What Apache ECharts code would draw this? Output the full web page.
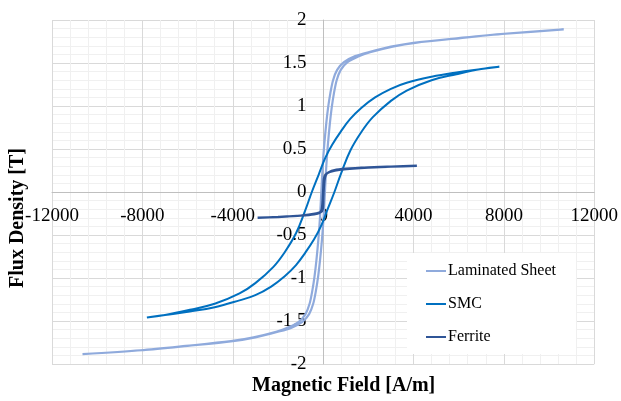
<!DOCTYPE html>
<html>
<head>
<meta charset="utf-8">
<script src="https://cdn.jsdelivr.net/npm/echarts@6/dist/echarts.min.js"></script>
<style>
html,body{margin:0;padding:0;background:#fff;}
#chart{width:621px;height:401px;}
</style>
</head>
<body>
<div id="chart"></div>
<script>
// ---- Data (H in A/m, B in T) ----
const seriesNames = ["Laminated Sheet", "SMC", "Ferrite"];

// Laminated sheet: descending branch (from +Hmax) and ascending branch (from -Hmax)
const lamDownH = [10650, 8000, 6000, 4000, 3000, 2000, 1420, 920, 620, 440, 320, 220, 140, 50, -20, -80, -140, -210, -300, -380, -480, -600, -780, -1080, -1580, -2080, -3080, -4080, -6080, -8080, -10650];
const lamDownB = [1.89, 1.84, 1.79, 1.735, 1.69, 1.625, 1.58, 1.51, 1.42, 1.30, 1.15, 0.98, 0.80, 0.55, 0.30, 0.0, -0.30, -0.55, -0.80, -0.98, -1.15, -1.30, -1.42, -1.51, -1.58, -1.625, -1.69, -1.735, -1.79, -1.84, -1.885];
const lamUpH = [-10650, -8000, -6000, -4000, -3000, -2000, -1420, -920, -620, -440, -320, -220, -140, -50, 20, 80, 140, 210, 300, 380, 480, 600, 780, 1080, 1580, 2080, 3080, 4080, 6080, 8080, 10650];
const lamUpB = [-1.885, -1.84, -1.79, -1.735, -1.69, -1.625, -1.58, -1.51, -1.42, -1.30, -1.15, -0.98, -0.80, -0.55, -0.30, 0.0, 0.30, 0.55, 0.80, 0.98, 1.15, 1.30, 1.42, 1.51, 1.58, 1.625, 1.69, 1.735, 1.79, 1.84, 1.89];

// SMC
const smcDownH = [7800, 7000, 5900, 4800, 3700, 3000, 2300, 1700, 1200, 800, 400, 100, -200, -500, -800, -1200, -1700, -2200, -3000, -3700, -4800, -5900, -7000, -7800];
const smcDownB = [1.457, 1.43, 1.39, 1.34, 1.27, 1.20, 1.10, 0.98, 0.85, 0.71, 0.55, 0.40, 0.20, 0.0, -0.22, -0.48, -0.70, -0.87, -1.06, -1.18, -1.30, -1.37, -1.43, -1.46];
const smcUpH = [-7800, -7000, -5900, -4800, -3700, -3000, -2300, -1700, -1200, -800, -400, -100, 200, 500, 800, 1200, 1700, 2200, 3000, 3700, 4800, 5900, 7000, 7800];
const smcUpB = [-1.46, -1.43, -1.39, -1.34, -1.26, -1.20, -1.10, -0.98, -0.85, -0.71, -0.55, -0.40, -0.20, 0.0, 0.22, 0.48, 0.70, 0.87, 1.06, 1.18, 1.30, 1.37, 1.43, 1.457];

// Ferrite
const ferDownH = [4150, 3000, 2000, 1000, 500, 250, 120, 60, 30, 10, 0, -20, -80, -300, -1000, -2000, -2900];
const ferDownB = [0.305, 0.295, 0.285, 0.27, 0.255, 0.23, 0.20, 0.14, 0.05, -0.05, -0.15, -0.20, -0.23, -0.25, -0.275, -0.29, -0.30];
const ferUpH = [-2900, -2000, -1000, -400, -150, -60, -20, 0, 15, 40, 100, 300, 800, 2000, 3000, 4150];
const ferUpB = [-0.30, -0.29, -0.275, -0.26, -0.24, -0.20, -0.10, 0.0, 0.10, 0.16, 0.20, 0.235, 0.26, 0.285, 0.295, 0.305];

// Axis ticks
const xTicks = [-12000, -8000, -4000, 0, 4000, 8000, 12000];
const yTicks = [-2, -1.5, -1, -0.5, 0, 0.5, 1, 1.5, 2];

const colors = ["#8FAADC", "#0070C0", "#2F5597"];

function loop(h1, b1, h2, b2) {
  const out = [];
  for (let i = 0; i < h1.length; i++) out.push([h1[i], b1[i]]);
  for (let i = 0; i < h2.length; i++) out.push([h2[i], b2[i]]);
  return out;
}

const FONT = "'Liberation Serif', 'Times New Roman', serif";
const W = 621, H = 401;
const G = {left: 52, right: 26, top: 20, bottom: 37};
const plotW = W - G.left - G.right;
const plotH = H - G.top - G.bottom;

const chart = echarts.init(document.getElementById('chart'), null, {renderer: 'canvas'});
const option = {
  animation: false,
  backgroundColor: '#ffffff',
  color: colors,
  grid: Object.assign({containLabel: false}, G),
  xAxis: {
    type: 'value',
    position: 'bottom',
    offset: -plotH / 2,
    min: xTicks[0], max: xTicks[xTicks.length - 1], interval: xTicks[1] - xTicks[0],
    axisLine: {show: true, onZero: false, lineStyle: {color: '#bfbfbf', width: 1}},
    axisTick: {show: false},
    minorTick: {show: false, splitNumber: 5},
    axisLabel: {margin: 15, color: '#000', fontFamily: FONT, fontSize: 19, showMinLabel: true, showMaxLabel: true,
      hideOverlap: false, formatter: v => String(v)},
    splitLine: {show: true, lineStyle: {color: '#d9d9d9', width: 1}},
    minorSplitLine: {show: true, lineStyle: {color: '#f0f0f0', width: 1}}
  },
  yAxis: {
    type: 'value',
    position: 'left',
    offset: -plotW / 2,
    min: yTicks[0], max: yTicks[yTicks.length - 1], interval: 0.5,
    axisLine: {show: true, onZero: false, lineStyle: {color: '#bfbfbf', width: 1}},
    axisTick: {show: false},
    minorTick: {show: false, splitNumber: 5},
    axisLabel: {margin: 17, color: '#000', fontFamily: FONT, fontSize: 19, showMinLabel: true, showMaxLabel: true,
      hideOverlap: false, formatter: v => String(v)},
    splitLine: {show: true, lineStyle: {color: '#d9d9d9', width: 1}},
    minorSplitLine: {show: true, lineStyle: {color: '#f0f0f0', width: 1}}
  },
  legend: {
    orient: 'vertical',
    left: 407, top: 253,
    backgroundColor: '#ffffff',
    padding: [10, 20, 9, 19],
    icon: 'rect',
    itemWidth: 20, itemHeight: 2, itemGap: 17,
    textStyle: {fontFamily: FONT, fontSize: 16, color: '#000', lineHeight: 16, padding: [0, 0, 0, -3]},
    data: seriesNames
  },
  graphic: [
    {type: 'text', left: 252, top: 376, style: {text: 'Magnetic Field [A/m]', font: "bold 20px 'Liberation Serif'", fill: '#000'}},
    {type: 'text', rotation: Math.PI / 2, x: 8, y: 288, style: {text: 'Flux Density [T]', font: "bold 20px 'Liberation Serif'", fill: '#000', textVerticalAlign: 'top'}}
  ],
  series: [
    {name: seriesNames[0], type: 'line', showSymbol: false, symbol: 'none', smooth: 0.3,
      lineStyle: {width: 2.2, color: colors[0]}, data: loop(lamDownH, lamDownB, lamUpH, lamUpB)},
    {name: seriesNames[1], type: 'line', showSymbol: false, symbol: 'none', smooth: 0.4,
      lineStyle: {width: 2, color: colors[1]}, data: loop(smcDownH, smcDownB, smcUpH, smcUpB)},
    {name: seriesNames[2], type: 'line', showSymbol: false, symbol: 'none', smooth: 0.2,
      lineStyle: {width: 2.4, color: colors[2]}, data: loop(ferDownH, ferDownB, ferUpH, ferUpB)}
  ]
};
chart.setOption(option);
</script>
</body>
</html>
